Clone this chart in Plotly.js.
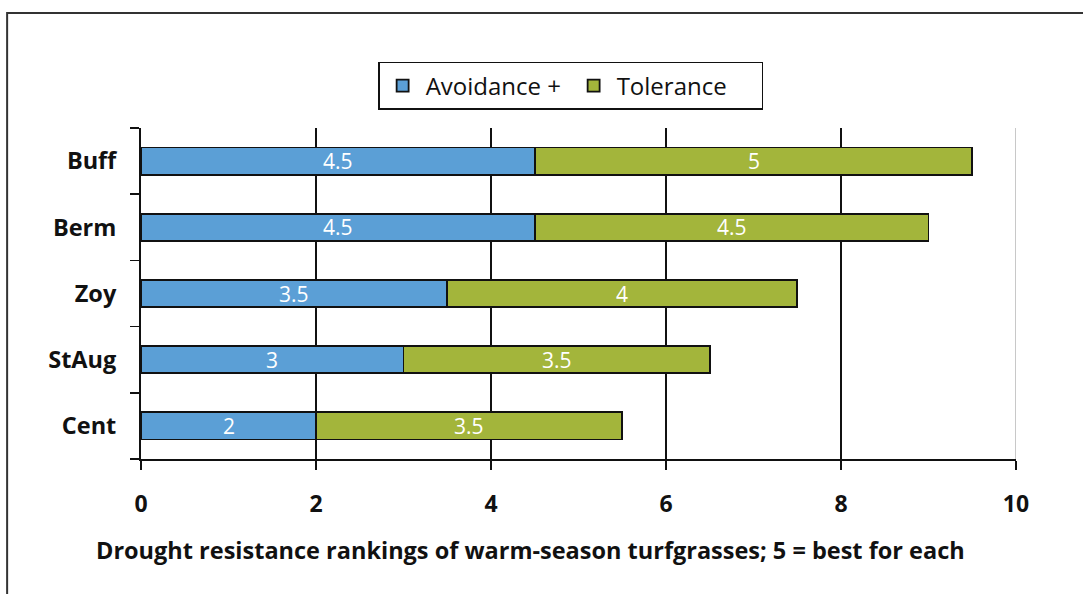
<!DOCTYPE html>
<html><head><meta charset="utf-8">
<script src="https://cdn.plot.ly/plotly-3.0.1.min.js"></script>
<style>body{margin:0;background:#fff}#c{width:1083px;height:594px}</style>
</head><body><div id="c"></div>
<script>
const categories = ["Buff", "Berm", "Zoy", "StAug", "Cent"];
const avoidance = [4.5, 4.5, 3.5, 3, 2];
const tolerance = [5, 4.5, 4, 3.5, 3.5];
const seriesNames = ["Avoidance +", "Tolerance"];
const xTicks = [0, 2, 4, 6, 8, 10];
const xTitle = "Drought resistance rankings of warm-season turfgrasses; 5 = best for each";

const FONT = "Open Sans, Noto Sans, sans-serif";
function barTrace(vals, name, color) {
  return {
    type: "bar", orientation: "h", y: categories, x: vals, name: name,
    width: 0.41,
    marker: {color: color, line: {color: "#111", width: 1.8}},
    textposition: "none",
    hoverinfo: "skip"
  };
}
const data = [
  barTrace(avoidance, seriesNames[0], "#5b9fd6"),
  barTrace(tolerance, seriesNames[1], "#a3b53b")
];
const labelAnns = [];
categories.forEach((c, i) => {
  labelAnns.push({x: avoidance[i] / 2, y: c, text: String(avoidance[i])});
  labelAnns.push({x: avoidance[i] + tolerance[i] / 2, y: c, text: String(tolerance[i])});
});
const annotations = labelAnns.map(a => ({
  xref: "x", yref: "y", x: a.x, y: a.y, text: a.text, showarrow: false,
  xanchor: "center", yanchor: "middle",
  font: {color: "#fff", size: 21, family: FONT}
}));
annotations.push({
  text: xTitle, xref: "paper", yref: "paper", x: 0.4446, y: -0.275,
  xanchor: "center", yanchor: "middle", showarrow: false,
  font: {size: 23.5, family: FONT, weight: "bold", color: "#111"}
});
const layout = {
  width: 1083, height: 594,
  margin: {l: 141, r: 67, t: 128, b: 135},
  barmode: "stack",
  paper_bgcolor: "#fff", plot_bgcolor: "#fff",
  font: {family: FONT, color: "#111"},
  showlegend: true,
  legend: {
    orientation: "h", x: 0.491, y: 1.127, xanchor: "center", yanchor: "middle",
    bordercolor: "#111", borderwidth: 1.5, font: {size: 24, family: FONT, color: "#111"},
    traceorder: "normal", itemwidth: 36, entrywidth: 140
  },
  xaxis: {
    range: [0, 10], tickvals: xTicks, ticktext: xTicks.map(String),
    showgrid: true, gridcolor: "#111", gridwidth: 1.3, zeroline: false,
    showline: true, linecolor: "#111", linewidth: 2,
    ticks: "outside", ticklen: 9, tickcolor: "#111", tickwidth: 1.5,
    ticklabelstandoff: 14,
    tickfont: {size: 23, family: FONT, weight: "bold", color: "#111"},
    fixedrange: true
  },
  yaxis: {
    type: "category", categoryorder: "array", categoryarray: categories.slice().reverse(),
    showline: true, linecolor: "#111", linewidth: 2,
    ticks: "outside", tickson: "boundaries", ticklen: 9, tickcolor: "#111", tickwidth: 1.5,
    ticklabelstandoff: 18,
    tickfont: {size: 23.5, family: FONT, weight: "bold", color: "#111"},
    showgrid: false, fixedrange: true
  },
  annotations: annotations,
  shapes: [
    {type: "line", xref: "x", yref: "paper", x0: 10, x1: 10, y0: 0, y1: 1,
     line: {color: "#c8c8c8", width: 2}, layer: "above"},
    {type: "rect", xref: "paper", yref: "paper", x0: -0.153, x1: 1.2, y0: -0.6, y1: 1.3475,
     line: {color: "#333", width: 2}, fillcolor: "rgba(0,0,0,0)", layer: "below"}
  ]
};
Plotly.newPlot("c", data, layout, {displayModeBar: false, staticPlot: true});
</script></body></html>
